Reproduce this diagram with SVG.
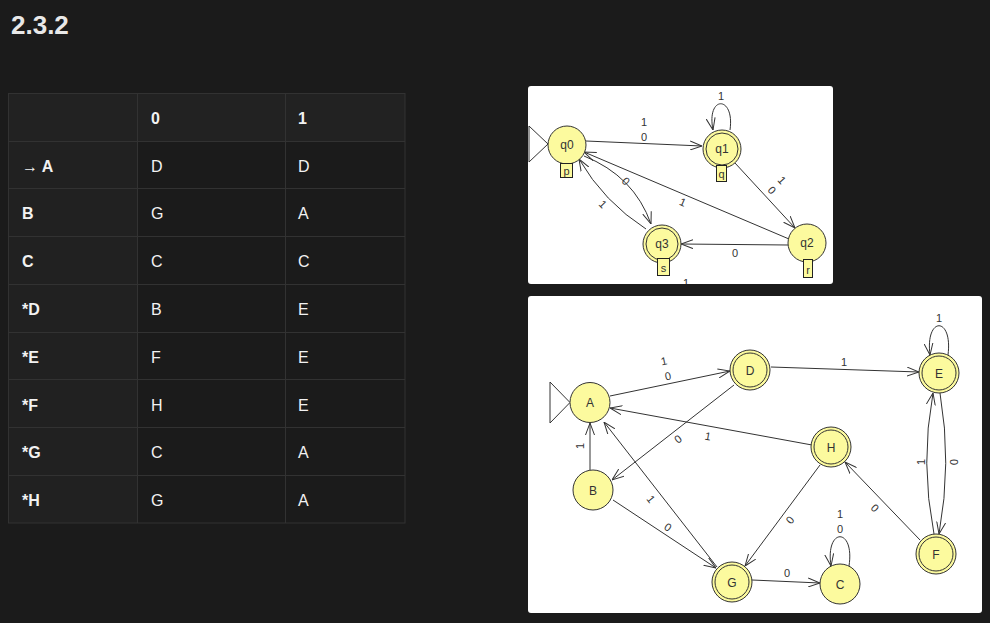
<svg xmlns="http://www.w3.org/2000/svg" width="990" height="623" viewBox="0 0 990 623">
<style>
.bg{fill:#1b1b1b}
.title{font-family:"Liberation Sans",Arial,sans-serif;font-weight:bold;font-size:26px;fill:#e8e8e8}
.th{font-family:"Liberation Sans",Arial,sans-serif;font-weight:bold;font-size:16px;fill:#f2f2f2}
.td{font-family:"Liberation Sans",Arial,sans-serif;font-size:16px;fill:#f2f2f2}
.grid{stroke:#323232;stroke-width:1;fill:none}
.panel{fill:#ffffff}
.st{fill:#fcfa9e;stroke:#333;stroke-width:1}
.inner{fill:none;stroke:#333;stroke-width:1}
.nl{font-family:"Liberation Sans",Arial,sans-serif;font-size:12px;fill:#333;text-anchor:middle}
.el{font-family:"Liberation Sans",Arial,sans-serif;font-size:11px;fill:#333;text-anchor:middle}
.edge{fill:none;stroke:#333;stroke-width:1;marker-end:url(#ah)}
.line{fill:none;stroke:#333;stroke-width:1}
.tag{fill:#fcfa9e;stroke:#222;stroke-width:1}
.init{fill:#fff;stroke:#333;stroke-width:1}
</style>
<defs>
<marker id="ah" viewBox="0 0 12 10" refX="12" refY="5" markerWidth="12" markerHeight="10" markerUnits="userSpaceOnUse" orient="auto">
<path d="M0,0.5 L12,5 L0,9.5" fill="none" stroke="#333" stroke-width="1"/>
</marker>
<clipPath id="clipTop"><rect x="528" y="86" width="305" height="198" rx="3"/></clipPath>
<clipPath id="clipBot"><rect x="528" y="296" width="454" height="317" rx="3"/></clipPath>
</defs>
<rect class="bg" x="0" y="0" width="990" height="623"/>
<text class="title" x="11" y="34">2.3.2</text>

<g id="table">
<rect x="8" y="93" width="397" height="48" fill="#222"/>
<rect x="8" y="141" width="129" height="382" fill="#212121"/>
<rect x="137" y="141" width="268" height="382" fill="#1b1b1b"/>
<rect class="grid" x="8.5" y="93.5" width="396.5" height="429.5"/>
<path class="grid" d="M137.5,93.5V523M285.5,93.5V523M8.5,141.5H405M8.5,188.5H405M8.5,236.5H405M8.5,284.5H405M8.5,332.5H405M8.5,379.5H405M8.5,427.5H405M8.5,475.5H405"/>
<text class="th" x="151" y="124">0</text><text class="th" x="298" y="124">1</text>
<text class="th" x="22" y="172"><tspan font-weight="normal">→</tspan> A</text><text class="td" x="151" y="172">D</text><text class="td" x="298" y="172">D</text>
<text class="th" x="22" y="219">B</text><text class="td" x="151" y="219">G</text><text class="td" x="298" y="219">A</text>
<text class="th" x="22" y="267">C</text><text class="td" x="151" y="267">C</text><text class="td" x="298" y="267">C</text>
<text class="th" x="22" y="315">*D</text><text class="td" x="151" y="315">B</text><text class="td" x="298" y="315">E</text>
<text class="th" x="22" y="363">*E</text><text class="td" x="151" y="363">F</text><text class="td" x="298" y="363">E</text>
<text class="th" x="22" y="411">*F</text><text class="td" x="151" y="411">H</text><text class="td" x="298" y="411">E</text>
<text class="th" x="22" y="458">*G</text><text class="td" x="151" y="458">C</text><text class="td" x="298" y="458">A</text>
<text class="th" x="22" y="506">*H</text><text class="td" x="151" y="506">G</text><text class="td" x="298" y="506">A</text>
</g>

<rect class="panel" x="528" y="86" width="305" height="198" rx="3"/>
<g clip-path="url(#clipTop)">
<g id="top-edges">
<path class="edge" d="M586,141 L702,146"/>
<text class="el" x="644" y="126">1</text><text class="el" x="644" y="141">0</text>
<path class="edge" d="M730,130 C735,95 706,95 713,130"/>
<text class="el" x="721" y="100">1</text>
<path class="edge" d="M735,163 L795,228"/>
<text class="el" transform="translate(782,180) rotate(48)" y="4">1</text>
<text class="el" transform="translate(772,190) rotate(48)" y="4">0</text>
<path class="edge" d="M789,239 L584,152"/>
<text class="el" transform="translate(683,202) rotate(23)" y="4">1</text>
<path class="edge" d="M788,245 L681,244"/>
<text class="el" x="735" y="257">0</text>
<path class="edge" d="M584,156 Q634,176 651,224"/>
<text class="el" transform="translate(626,181) rotate(45)" y="4">0</text>
<path class="edge" d="M646,229 Q604,202 579,159"/>
<text class="el" transform="translate(603,204) rotate(45)" y="4">1</text>
<text class="el" x="686" y="287">1</text>
</g>
<polygon class="init" points="529,126 548,144 529,162"/>
<g id="q0"><circle class="st" cx="567" cy="145" r="19"/><text class="nl" x="567" y="149">q0</text><rect class="tag" x="560.5" y="163.5" width="12" height="14"/><text class="el" x="566.5" y="175">p</text></g>
<g id="q1"><circle class="st" cx="722" cy="149" r="19"/><circle class="inner" cx="722" cy="149" r="16"/><text class="nl" x="722" y="153">q1</text><rect class="tag" x="716.5" y="165.5" width="10" height="16"/><text class="el" x="721.5" y="178">q</text></g>
<g id="q2"><circle class="st" cx="807" cy="243" r="19"/><text class="nl" x="807" y="247">q2</text><rect class="tag" x="803.5" y="259.5" width="9" height="18"/><text class="el" x="808" y="274">r</text></g>
<g id="q3"><circle class="st" cx="662" cy="244" r="19"/><circle class="inner" cx="662" cy="244" r="16"/><text class="nl" x="662" y="248">q3</text><rect class="tag" x="657.5" y="258.5" width="12" height="17"/><text class="el" x="663.5" y="272">s</text></g>
</g>

<rect class="panel" x="528" y="296" width="454" height="317" rx="3"/>
<g clip-path="url(#clipBot)">
<g id="bottom-edges">
<path class="edge" d="M610,396 L730,371"/>
<text class="el" transform="translate(664,361) rotate(-12)" y="4">1</text>
<text class="el" transform="translate(668,376) rotate(-12)" y="4">0</text>
<path class="edge" d="M771,367 L919,372"/>
<text class="el" x="844" y="366">1</text>
<path class="edge" d="M948,355 C953,316 925,316 930,355"/>
<text class="el" x="939" y="322">1</text>
<path class="edge" d="M940,393 Q952,463 939,534"/>
<text class="el" transform="translate(954,462) rotate(90)" y="4">0</text>
<path class="edge" d="M934,534 Q920,463 933,393"/>
<text class="el" transform="translate(921,462) rotate(-90)" y="4">1</text>
<path class="edge" d="M812,445 L610,408"/>
<text class="el" transform="translate(708,436) rotate(10)" y="4">1</text>
<path class="edge" d="M734,385 L612,480"/>
<text class="el" transform="translate(678,439) rotate(-38)" y="4">0</text>
<path class="edge" d="M590,470 L590,423"/>
<text class="el" transform="translate(580,446) rotate(-90)" y="4">1</text>
<path class="edge" d="M717,567 L604,422"/>
<text class="el" transform="translate(651,499) rotate(52)" y="4">1</text>
<path class="edge" d="M613,500 L716,568"/>
<text class="el" transform="translate(668,527) rotate(33)" y="4">0</text>
<path class="edge" d="M820,465 L745,566"/>
<text class="el" transform="translate(790,520) rotate(-53)" y="4">0</text>
<path class="edge" d="M920,540 L845,462"/>
<text class="el" transform="translate(875,508) rotate(46)" y="4">0</text>
<path class="edge" d="M752,580 L820,583"/>
<text class="el" x="787" y="577">0</text>
<path class="edge" d="M849,566 C855,527 825,527 831,566"/>
<text class="el" x="840" y="518">1</text>
<text class="el" x="840" y="533">0</text>
</g>
<polygon class="init" points="550,382 570,402.5 550,423"/>
<g id="A"><circle class="st" cx="590" cy="402.5" r="20"/><text class="nl" x="590" y="407">A</text></g>
<g id="D"><circle class="st" cx="750" cy="370" r="20"/><circle class="inner" cx="750" cy="370" r="17"/><text class="nl" x="750" y="374.5">D</text></g>
<g id="E"><circle class="st" cx="939" cy="373" r="20"/><circle class="inner" cx="939" cy="373" r="17"/><text class="nl" x="939" y="377.5">E</text></g>
<g id="H"><circle class="st" cx="831" cy="447" r="20"/><circle class="inner" cx="831" cy="447" r="17"/><text class="nl" x="831" y="451.5">H</text></g>
<g id="B"><circle class="st" cx="593" cy="490" r="20"/><text class="nl" x="593" y="494.5">B</text></g>
<g id="G"><circle class="st" cx="732" cy="582" r="20"/><circle class="inner" cx="732" cy="582" r="17"/><text class="nl" x="732" y="586.5">G</text></g>
<g id="C"><circle class="st" cx="840" cy="584" r="20"/><text class="nl" x="840" y="588.5">C</text></g>
<g id="F"><circle class="st" cx="936" cy="554" r="20"/><circle class="inner" cx="936" cy="554" r="17"/><text class="nl" x="936" y="558.5">F</text></g>
</g>
</svg>
